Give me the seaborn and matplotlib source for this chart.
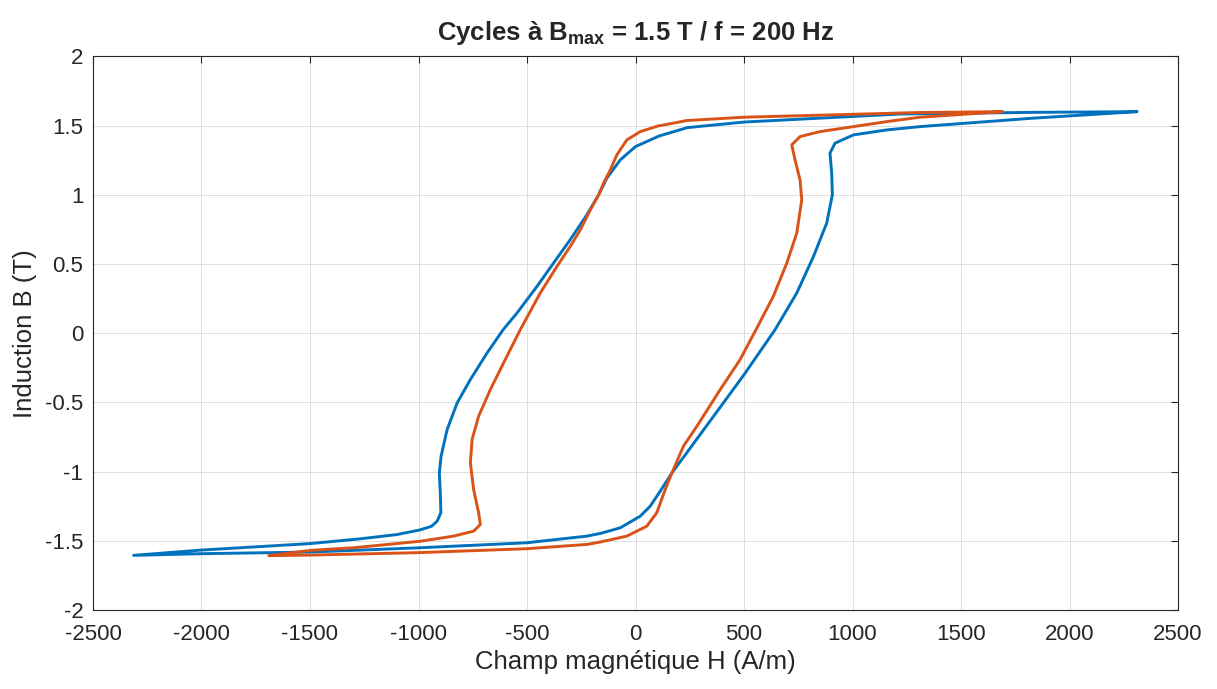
import matplotlib
matplotlib.use("Agg")
import matplotlib.pyplot as plt
import seaborn as sns
import pandas as pd

# loop 1 (blue): descending branch then ascending branch, H in A/m, B in T
h_blue = [2310, 1830, 1220, 500, 240, 110, 0, -70, -132, -170, -224, -301, -378,
          -454, -546, -610, -684, -761, -822, -868, -896, -904, -899, -897, -914,
          -940, -995, -1100, -1277, -1500, -2003, -2313,
          -2004, -1498, -991, -500, -224, -163, -70, -9, 22, 68, 114, 168, 298,
          500, 643, 743, 820, 881, 907, 904, 896, 919, 1004, 1157, 1311, 1832, 2310]
b_blue = [1.600, 1.595, 1.583, 1.525, 1.485, 1.425, 1.348, 1.252, 1.120, 0.999,
          0.855, 0.675, 0.506, 0.338, 0.146, 0.025, -0.143, -0.335, -0.504, -0.696,
          -0.889, -1.009, -1.177, -1.297, -1.358, -1.395, -1.422, -1.455, -1.487,
          -1.520, -1.567, -1.605,
          -1.593, -1.581, -1.550, -1.514, -1.466, -1.447, -1.406, -1.350, -1.322,
          -1.249, -1.141, -1.009, -0.732, -0.300, 0.025, 0.290, 0.554, 0.795, 0.999,
          1.156, 1.300, 1.372, 1.432, 1.468, 1.492, 1.553, 1.600]

# loop 2 (orange)
h_orange = [1691, 1311, 500, 237, 100, 22, -40, -86, -116, -147, -170, -208, -254,
            -301, -362, -439, -531, -608, -669, -723, -753, -761, -746, -723, -715,
            -746, -838, -991, -1298, -1498, -1690,
            -1498, -991, -500, -224, -163, -40, -9, 52, 98, 137, 168, 221, 283, 390,
            482, 555, 635, 697, 743, 766, 758, 735, 720, 758, 850, 1004, 1157, 1311,
            1691]
b_orange = [1.600, 1.594, 1.560, 1.536, 1.495, 1.456, 1.396, 1.288, 1.180, 1.084,
            0.999, 0.891, 0.747, 0.626, 0.482, 0.290, 0.025, -0.215, -0.408, -0.600,
            -0.768, -0.937, -1.129, -1.297, -1.382, -1.430, -1.466, -1.503, -1.550,
            -1.569, -1.607,
            -1.603, -1.585, -1.557, -1.526, -1.509, -1.466, -1.442, -1.394, -1.297,
            -1.129, -1.009, -0.816, -0.672, -0.408, -0.191, 0.025, 0.266, 0.506,
            0.723, 0.963, 1.108, 1.252, 1.360, 1.420, 1.456, 1.492, 1.528, 1.560,
            1.600]

x_ticks = list(range(-2500, 2501, 500))
y_ticks = [-2, -1.5, -1, -0.5, 0, 0.5, 1, 1.5, 2]
y_ticklabels = ['-2', '-1.5', '-1', '-0.5', '0', '0.5', '1', '1.5', '2']

df = pd.concat([
    pd.DataFrame({'H': h_blue, 'B': b_blue, 'cycle': 'c1'}),
    pd.DataFrame({'H': h_orange, 'B': b_orange, 'cycle': 'c2'}),
], ignore_index=True)

sns.set_style("whitegrid")
plt.rcParams['font.family'] = ['Liberation Sans', 'DejaVu Sans']
plt.rcParams['mathtext.fontset'] = 'custom'
plt.rcParams['mathtext.rm'] = 'Liberation Sans'
plt.rcParams['mathtext.bf'] = 'Liberation Sans:bold'

fig = plt.figure(figsize=(12.17, 6.89), dpi=100)
ax = fig.add_axes([0.0764, 0.1146, 0.8916, 0.8037])

sns.lineplot(data=df, x='H', y='B', hue='cycle', sort=False, estimator=None,
             palette={'c1': '#0072BD', 'c2': '#D95319'}, linewidth=2.1,
             legend=False, ax=ax)

ax.set_xlim(-2500, 2500)
ax.set_ylim(-2, 2)
ax.set_xticks(x_ticks)
ax.set_xticklabels([str(v) for v in x_ticks])
ax.set_yticks(y_ticks)
ax.set_yticklabels(y_ticklabels)

ax.grid(True, color='#dfdfdf', linewidth=0.7)
ax.set_facecolor('white')
for s in ax.spines.values():
    s.set_color('#262626')
    s.set_linewidth(0.8)
ax.tick_params(direction='in', length=5, width=0.8, color='#262626',
               top=True, right=True, labelsize=16, labelcolor='#262626')
ax.tick_params(axis='x', pad=10)
ax.tick_params(axis='y', pad=7)

ax.set_xlabel("Champ magnétique H (A/m)", fontsize=18.5, color='#262626', labelpad=4)
ax.set_ylabel("Induction B (T)", fontsize=18.5, color='#262626', labelpad=6)
ax.set_title(r"Cycles à $\mathbf{B_{max}}$ = 1.5 T / f = 200 Hz",
             fontsize=18.5, fontweight='bold', pad=12)

fig.savefig("out.png", dpi=100, facecolor='white')
